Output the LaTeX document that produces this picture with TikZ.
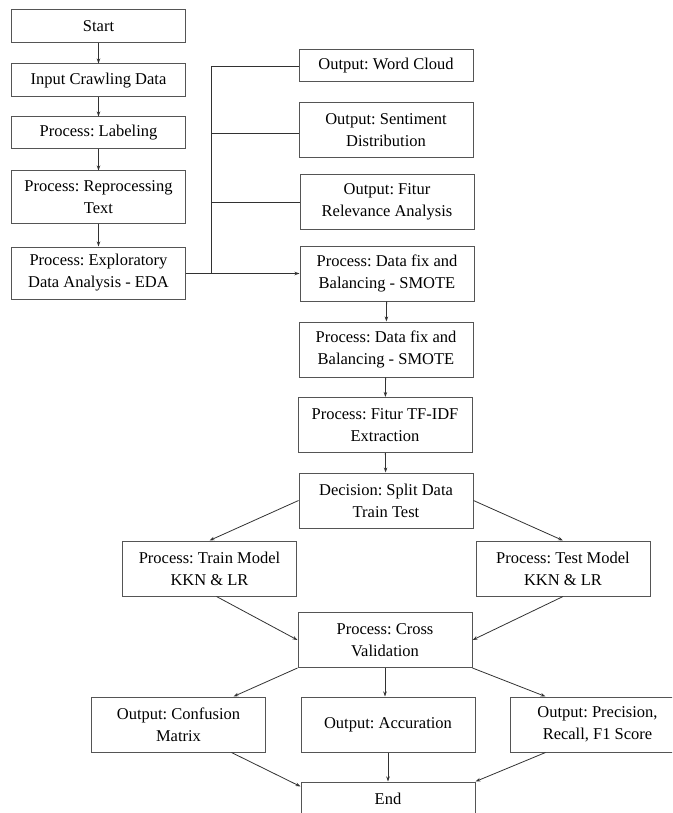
\documentclass[tikz,border=0pt]{standalone}
\usepackage{fontspec}
\setmainfont{Liberation Serif}
\usepackage{tikz}
\usetikzlibrary{arrows.meta}
\definecolor{boxgray}{RGB}{85,85,85}
\definecolor{linegray}{RGB}{50,50,50}
\frenchspacing

\begin{document}
\begin{tikzpicture}[x=1pt,y=-1pt,
  >={Stealth[length=5pt,width=3.5pt]},
  box/.style={draw=boxgray,line width=1pt,minimum width=174pt,align=center,inner sep=0pt,
    font=\fontsize{16.5}{22}\selectfont},
  single/.style={box,minimum height=33pt},
  double/.style={box,minimum height=55pt},
  conn/.style={linegray,line width=0.8pt}]

% frame
\clip (0,0) rectangle (672,813);

% left column
\node[single] (start) at (98.5,26) {Start};
\node[single] (input) at (98.5,80.5) {Input Crawling Data};
\node[single,minimum height=32pt] (labeling) at (98.5,133) {Process: Labeling};
\node[double,minimum height=52pt] (reproc) at (98.5,197) {Process: Reprocessing\\Text};
\node[double,minimum height=52pt] (eda) at (98.5,273) {Process: Exploratory\\Data Analysis - EDA};

% outputs of EDA
\node[single,minimum height=32pt] (wordcloud) at (386,66) {Output: Word Cloud};
\node[double] (sentiment) at (386,130.5) {Output: Sentiment\\Distribution};
\node[double] (fitur) at (387,202) {Output: Fitur\\Relevance Analysis};

% main column
\node[double] (smoteA) at (387,273.5) {Process: Data fix and\\Balancing - SMOTE};
\node[double] (smoteB) at (386,349.5) {Process: Data fix and\\Balancing - SMOTE};
\node[double] (tfidf) at (385,425) {Process: Fitur TF-IDF\\Extraction};
\node[double] (decision) at (386,500.5) {Decision: Split Data\\Train Test};

% models
\node[double] (train) at (209.5,568.5) {Process: Train Model\\KKN \& LR};
\node[double] (test) at (563,568.5) {Process: Test Model\\KKN \& LR};
\node[double] (cv) at (385,640) {Process: Cross\\Validation};

% results
\node[double] (confusion) at (178.5,724.5) {Output: Confusion\\Matrix};
\node[double] (accuration) at (388,724.5) {Output: Accuration};
\node[double] (precision) at (597.5,724.5) {Output: Precision,\\Recall, F1 Score};
\node[single] (end) at (388,798.5) {End};

% arrows left column
\draw[conn,->] (start) -- (input);
\draw[conn,->] (input) -- (labeling);
\draw[conn,->] (labeling) -- (reproc);
\draw[conn,->] (reproc) -- (eda);

% bus
\coordinate (bus) at (211,273.5);
\draw[conn,->] (eda.east |- bus) -- (smoteA.west);
\draw[conn] (bus) |- (wordcloud.west);
\draw[conn] (bus |- 0,133) -- (sentiment.west |- 0,133);
\draw[conn] (bus |- fitur.west) -- (fitur.west);

% arrows main column
\draw[conn,->] (smoteA) -- (smoteB);
\draw[conn,->] (smoteB) -- (tfidf);
\draw[conn,->] (tfidf) -- (decision);
\draw[conn,->] (decision.west) -- (train.north);
\draw[conn,->] (decision.east) -- (test.north);
\draw[conn,->] ([xshift=7pt]train.south) -- (cv.west);
\draw[conn,->] (test.south) -- (cv.east);
\draw[conn,->] (cv.south west) -- ([xshift=55pt]confusion.north);
\draw[conn,->] (cv.south) -- (cv.south |- accuration.north);
\draw[conn,->] (cv.south east) -- ([xshift=-52pt]precision.north);
\draw[conn,->] ([xshift=53pt]confusion.south) -- ([yshift=-5pt]end.north west);
\draw[conn,->] (accuration.south) -- (accuration.south |- end.north);
\draw[conn,->] ([xshift=-52pt]precision.south) -- (end.north east);

\end{tikzpicture}
\end{document}
